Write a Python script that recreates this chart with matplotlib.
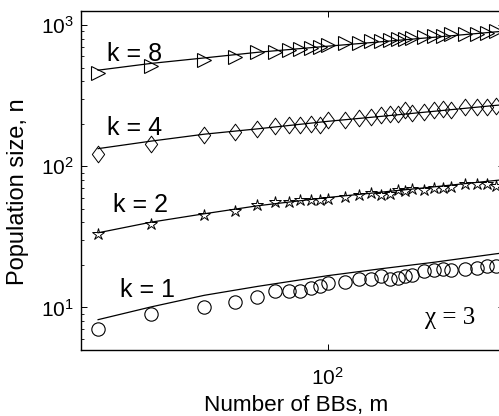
import numpy as np
import matplotlib
matplotlib.use("Agg")
import matplotlib.pyplot as plt
from matplotlib.path import Path

plt.rcParams['font.family'] = ['Liberation Sans', 'DejaVu Sans']
plt.rcParams['mathtext.fontset'] = 'custom'
plt.rcParams['mathtext.rm'] = 'Liberation Sans'
plt.rcParams['mathtext.it'] = 'Liberation Sans:italic'
plt.rcParams['mathtext.bf'] = 'Liberation Sans:bold'

# Number of building blocks (x values of markers)
m_vals = [5, 10, 20, 30, 40, 50, 60, 70, 80, 90, 100, 125, 150, 175, 200,
          225, 250, 275, 300, 350, 400, 450, 500, 600, 700, 800, 900]

# Experimental population sizes
n_k1 = [7.0, 9.0, 10.0, 11.0, 11.8, 13.0, 13.0, 13.0, 13.8, 14.3, 14.8, 15.1,
        16.0, 16.0, 16.6, 16.0, 16.2, 16.8, 17.1, 18.1, 18.3, 18.8, 18.3, 18.8,
        19.1, 19.8, 19.8]
n_k2 = [32.9, 38.7, 44.9, 48.6, 52.9, 55.7, 55.7, 57.3, 57.3, 58.0, 58.9, 60.5,
        62.2, 64.6, 62.2, 64.0, 68.2, 66.8, 69.4, 68.2, 70.5, 70.5, 71.1, 75.3,
        75.3, 75.3, 73.0]
n_k4 = [122.7, 142.9, 165.6, 174.8, 184.8, 191.9, 195, 195, 198, 195, 211.8,
        214, 221, 223, 229.6, 233, 236, 249, 238, 242, 252, 256, 249, 261, 261,
        261, 266]
n_k8 = [458, 511, 570, 595, 645, 645, 664, 682, 688, 700, 719, 740, 748, 773,
        773, 781, 790, 790, 803, 825, 834, 834, 861, 861, 871, 885, 905]

# Model prediction curves
line_m = [5, 10, 20, 40, 100, 200, 400, 900, 1000]
line_k1 = [8.2, 10.1, 12.2, 14.1, 16.8, 18.8, 20.9, 24.0, 24.4]
line_k2 = [33.8, 40.2, 46.1, 52.5, 60.1, 65.5, 71.5, 79.4, 80.5]
line_k4 = [133.3, 150.7, 168.7, 184.0, 208, 225.5, 245, 270, 273]
line_k8 = [479, 535, 585, 641, 708, 761, 819, 895, 905]

labels = ['k = 1', 'k = 2', 'k = 4', 'k = 8']

fig = plt.figure(figsize=(4.99, 4.16), dpi=100)
W, H = 499, 416
ax = fig.add_axes([81 / W, 1 - 350 / H, (504.2 - 81) / W, (350 - 11) / H])

diamond = Path([(0, 1), (-0.74, 0), (0, -1), (0.74, 0), (0, 1)],
               [Path.MOVETO, Path.LINETO, Path.LINETO, Path.LINETO, Path.CLOSEPOLY])

lw = 0.9
ax.plot(line_m, line_k1, color='black', lw=lw)
ax.plot(line_m, line_k2, color='black', lw=lw)
ax.plot(line_m, line_k4, color='black', lw=lw)
ax.plot(line_m, line_k8, color='black', lw=lw)

ax.plot(m_vals, n_k1, linestyle='none', marker='o', ms=9.6, mfc='none',
        mec='black', mew=0.8)
ax.plot(m_vals, n_k2, linestyle='none', marker='*', ms=9.3, mfc='none',
        mec='black', mew=0.7)
ax.plot(m_vals, n_k4, linestyle='none', marker=diamond, ms=12, mfc='none',
        mec='black', mew=0.7)
ax.plot(m_vals, n_k8, linestyle='none', marker='>', ms=10.5, mfc='none',
        mec='black', mew=0.8)

ax.set_xscale('log')
ax.set_yscale('log')
ax.set_xlim(4, 1000)
ax.set_ylim(5, 1257)

ax.tick_params(which='both', direction='in', top=True, right=True,
               labelsize=15)
ax.tick_params(axis='x', pad=12)
ax.tick_params(axis='y', pad=5)
ax.tick_params(which='major', length=4, width=0.7)
ax.tick_params(which='minor', length=2.5, width=0.6)
ax.xaxis.set_minor_locator(matplotlib.ticker.NullLocator())
ax.set_xticks([100])
ax.set_yticks([10, 100, 1000])
for sp in ax.spines.values():
    sp.set_linewidth(1.0)

ax.set_xlabel('Number of BBs, m', fontsize=16.2)
ax.xaxis.set_label_coords(0.508, -0.132)
ax.set_ylabel('Population size, n', fontsize=17)
ax.yaxis.set_label_coords(-0.123, 0.4676)

fs = 18
ax.text(6.65, 11.8, labels[0], fontsize=fs, ha='left', va='baseline')
ax.text(6.07, 47.3, labels[1], fontsize=fs, ha='left', va='baseline')
ax.text(5.62, 165.6, labels[2], fontsize=fs, ha='left', va='baseline')
ax.text(5.62, 555, labels[3], fontsize=fs, ha='left', va='baseline')
ax.text(0.813, 0.0767, 'χ = 3', transform=ax.transAxes, fontsize=18,
        family=['Liberation Serif', 'DejaVu Serif'], ha='left', va='baseline')

fig.savefig('out.png', dpi=100)
